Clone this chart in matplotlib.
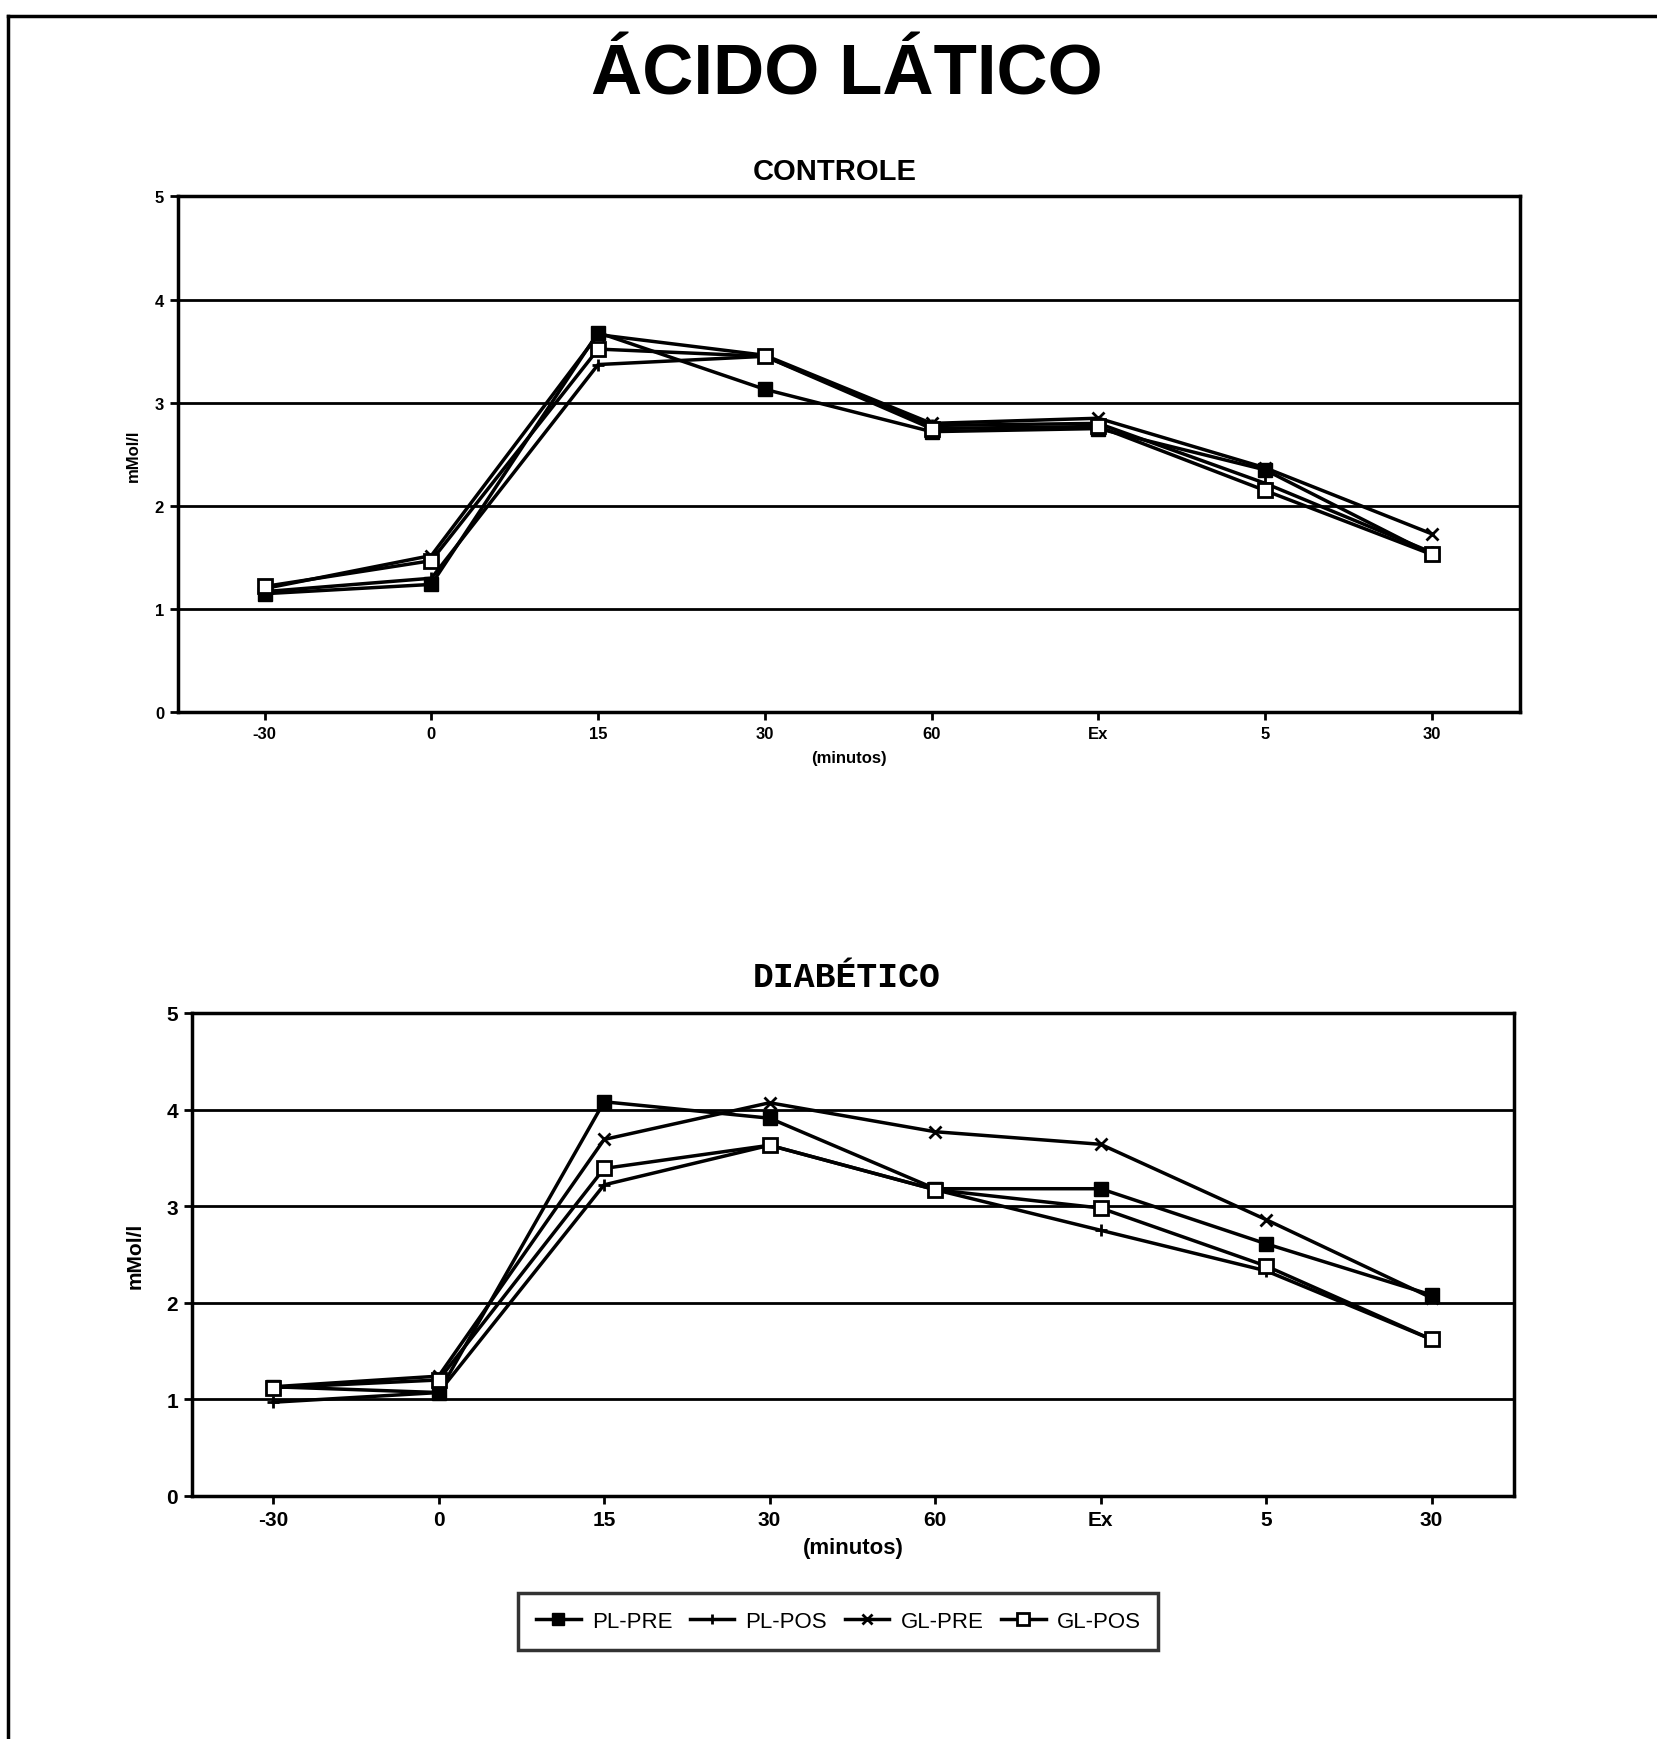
import matplotlib
matplotlib.use("Agg")
import matplotlib.pyplot as plt
from matplotlib.lines import Line2D

# Eixo x (categorias)
tempos = ["-30", "0", "15", "30", "60", "Ex", "5", "30"]
series = ["PL-PRE", "PL-POS", "GL-PRE", "GL-POS"]

# CONTROLE
ctrl_pl_pre = [1.15, 1.24, 3.68, 3.13, 2.72, 2.75, 2.35, 1.53]
ctrl_pl_pos = [1.17, 1.30, 3.37, 3.45, 2.78, 2.80, 2.22, 1.55]
ctrl_gl_pre = [1.20, 1.52, 3.66, 3.46, 2.80, 2.85, 2.37, 1.73]
ctrl_gl_pos = [1.22, 1.47, 3.52, 3.45, 2.75, 2.77, 2.15, 1.53]

# DIABETICO
diab_pl_pre = [1.13, 1.07, 4.08, 3.91, 3.18, 3.18, 2.61, 2.08]
diab_pl_pos = [0.97, 1.07, 3.22, 3.63, 3.17, 2.75, 2.33, 1.62]
diab_gl_pre = [1.13, 1.24, 3.69, 4.07, 3.77, 3.64, 2.86, 2.05]
diab_gl_pos = [1.12, 1.20, 3.39, 3.63, 3.17, 2.98, 2.38, 1.62]

estilos = {
    "PL-PRE": dict(marker="s", markersize=10, markerfacecolor="black"),
    "PL-POS": dict(marker="+", markersize=9, markeredgewidth=2),
    "GL-PRE": dict(marker="x", markersize=9, markeredgewidth=2),
    "GL-POS": dict(marker="s", markersize=10, markerfacecolor="white", markeredgewidth=2),
}

sans = ["Liberation Sans", "DejaVu Sans"]

fig = plt.figure(figsize=(16.57, 17.40), dpi=100)

# moldura da pagina
fig.add_artist(Line2D([0.005, 1.0], [0.990, 0.990], color="black", lw=2.5, transform=fig.transFigure))
fig.add_artist(Line2D([0.005, 0.005], [0.0, 0.990], color="black", lw=2.5, transform=fig.transFigure))

fig.text(0.511, 0.956, "ÁCIDO LÁTICO", ha="center", va="center",
         fontsize=51, fontweight="bold", family=sans)


def painel(ax, dados, xlim, tick_fs, xlabel_fs, ylabel_pad):
    x = range(len(tempos))
    for nome, vals in zip(series, dados):
        ax.plot(x, vals, color="black", lw=2.5, label=nome, **estilos[nome])
    ax.set_xlim(*xlim)
    ax.set_ylim(0, 5)
    ax.set_yticks(range(6))
    ax.set_xticks(list(x))
    ax.set_xticklabels(tempos)
    for y in range(1, 5):
        ax.axhline(y, color="black", lw=2, zorder=0)
    for s in ax.spines.values():
        s.set_linewidth(2.5)
    ax.tick_params(axis="both", direction="out", length=6, width=2,
                   labelsize=tick_fs, pad=4)
    for t in ax.get_xticklabels() + ax.get_yticklabels():
        t.set_fontweight("bold")
        t.set_family(sans)
    ax.set_ylabel("mMol/l", fontsize=tick_fs, fontweight="bold", family=sans, labelpad=ylabel_pad)
    ax.set_xlabel("(minutos)", fontsize=xlabel_fs, fontweight="bold", family=sans, labelpad=6)


ax1 = fig.add_axes([0.1074, 0.590, 0.810, 0.2966])
painel(ax1, [ctrl_pl_pre, ctrl_pl_pos, ctrl_gl_pre, ctrl_gl_pos], (-0.52, 7.53), 12, 12, 10)
fig.text(0.504, 0.901, "CONTROLE", ha="center", va="center",
         fontsize=21, fontweight="bold", family=sans)

ax2 = fig.add_axes([0.1159, 0.1397, 0.798, 0.2776])
painel(ax2, [diab_pl_pre, diab_pl_pos, diab_gl_pre, diab_gl_pos], (-0.49, 7.50), 15, 16, 16)
fig.text(0.511, 0.4385, "DIABÉTICO", ha="center", va="center", fontsize=25, fontweight="bold",
         family=["Liberation Mono", "DejaVu Sans Mono"])

handles, labels = ax2.get_legend_handles_labels()
leg = fig.legend(handles, labels, loc="center", bbox_to_anchor=(0.506, 0.0675),
                 ncol=4, frameon=True, fancybox=False, edgecolor="black",
                 prop={"family": sans, "size": 16}, handlelength=2.0, markerscale=0.8,
                 columnspacing=0.8, handletextpad=0.5, borderpad=0.8)
leg.get_frame().set_linewidth(2.5)

fig.savefig("out.png", dpi=100, facecolor="white")
